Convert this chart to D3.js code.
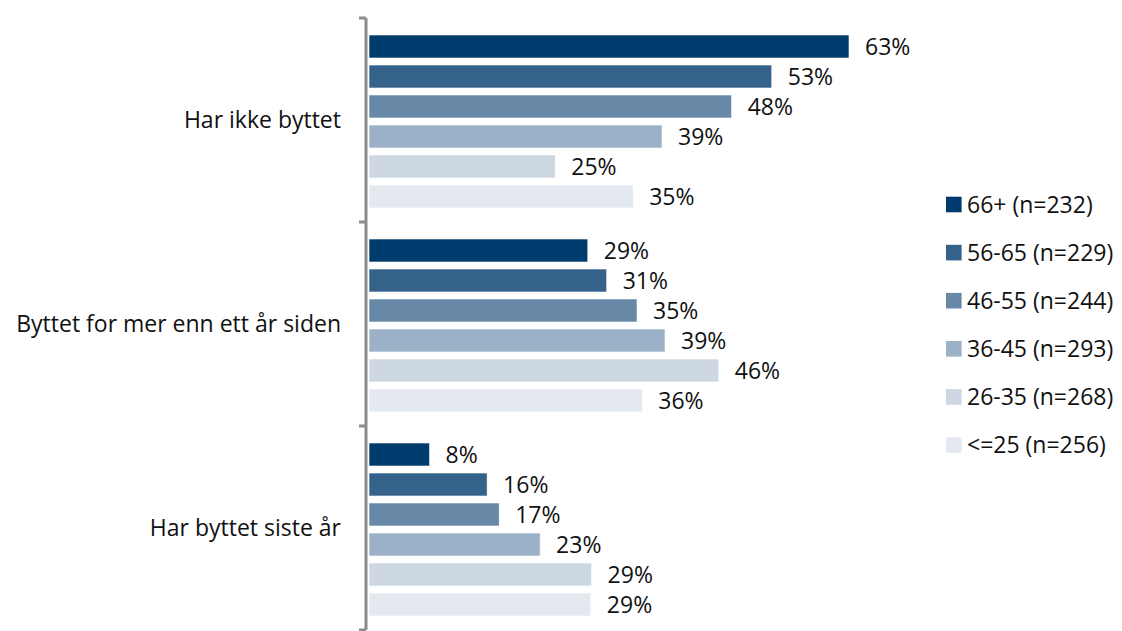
<!DOCTYPE html>
<html><head><meta charset="utf-8">
<script src="https://cdn.jsdelivr.net/npm/d3@7"></script>
<style>body{margin:0;background:#fff;}svg{display:block;font-family:"Open Sans",sans-serif;}</style>
</head><body><svg id="c" width="1122" height="631"></svg>
<script>
const categories = ["Har ikke byttet", "Byttet for mer enn ett år siden", "Har byttet siste år"];
const seriesNames = ["66+ (n=232)", "56-65 (n=229)", "46-55 (n=244)", "36-45 (n=293)", "26-35 (n=268)", "<=25 (n=256)"];
const v66 = [63.4, 28.9, 8.0];
const v56 = [53.2, 31.4, 15.6];
const v46 = [47.9, 35.4, 17.2];
const v36 = [38.7, 39.1, 22.6];
const v26 = [24.6, 46.2, 29.4];
const v25 = [34.9, 36.1, 29.3];
const seriesValues = [v66, v56, v46, v36, v26, v25];
const colors = ["#003b6e", "#35628a", "#6789a7", "#9bb1c7", "#cdd8e3", "#e4e9ef"];

const FS = 23;
const fmt = d3.format(".0f");
const svg = d3.select("#c");
const x = d3.scaleLinear().domain([0, 63.4]).range([369, 849]);
const y = d3.scaleBand().domain(categories).range([18, 630]).paddingInner(0).paddingOuter(0);
const ySub = d3.scaleBand().domain(d3.range(6)).range([17, 190]).paddingInner(0.233).paddingOuter(0);

// axis
const ag = svg.append("g").attr("transform", `translate(366,0)`);
ag.append("line").attr("x1", 0).attr("x2", 0).attr("y1", 18).attr("y2", 630).attr("stroke", "#8c8c8c").attr("stroke-width", 3);
const tickPos = [18].concat(categories.map(c => y(c) + y.bandwidth()));
ag.selectAll("line.t").data(tickPos).join("line").attr("class","t")
  .attr("x1", -7).attr("x2", 0).attr("y1", d => d).attr("y2", d => d)
  .attr("stroke", "#8c8c8c").attr("stroke-width", 3);

// category labels
svg.selectAll("text.cat").data(categories).join("text").attr("class","cat")
  .attr("x", 341).attr("y", d => y(d) + y.bandwidth()/2 + 8)
  .attr("text-anchor", "end")
  .attr("font-size", FS).attr("fill", "#111").text(d => d);

// bars
categories.forEach((cat, ci) => {
  const g = svg.append("g").attr("transform", `translate(0,${y(cat)})`);
  seriesValues.forEach((vals, si) => {
    const val = vals[ci];
    g.append("rect").attr("x", x(0)).attr("y", ySub(si))
      .attr("width", x(val) - x(0)).attr("height", ySub.bandwidth())
      .attr("fill", colors[si]).attr("stroke", "#ffffff").attr("stroke-width", 0.6);
    g.append("text").attr("x", x(val) + 16).attr("y", ySub(si) + ySub.bandwidth()/2 + 8.5)
      .attr("font-size", FS).attr("fill", "#111")
      .text(fmt(val) + "%");
  });
});

// legend
const lg = svg.append("g");
seriesNames.forEach((name, i) => {
  const ly = 204.5 + i * 48.1;
  lg.append("rect").attr("x", 946).attr("y", ly - 7.8).attr("width", 15.6).attr("height", 15.6).attr("fill", colors[i]);
  lg.append("text").attr("x", 967).attr("y", ly + 8)
    .attr("font-size", FS).attr("fill", "#111").text(name);
});
</script></body></html>
